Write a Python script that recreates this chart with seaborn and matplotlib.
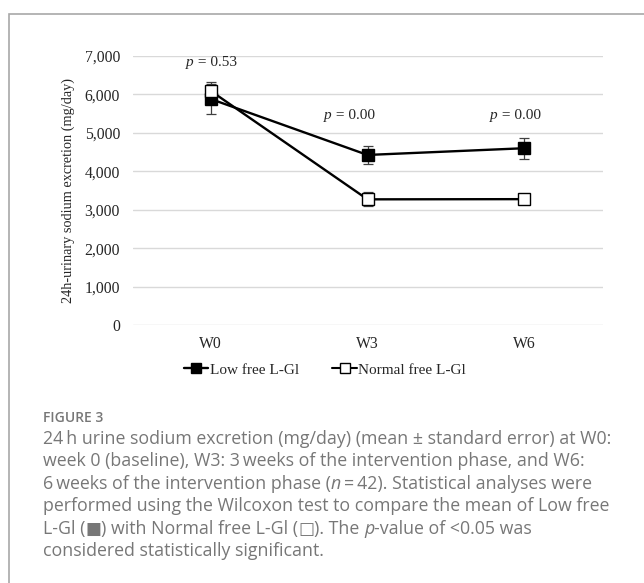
import pandas as pd
import seaborn as sns
import matplotlib.pyplot as plt
from matplotlib import transforms
from matplotlib.patches import Rectangle

# --- data ---
weeks = ["W0", "W3", "W6"]
low_mean = [5880, 4425, 4600]
low_se = [380, 245, 275]
normal_mean = [6090, 3270, 3275]
normal_se = [240, 185, 110]
p_labels = ["0.53", "0.00", "0.00"]
group_names = ["Low free L-Gl", "Normal free L-Gl"]

df = pd.DataFrame({
    "week": weeks * 2,
    "value": low_mean + normal_mean,
    "se": low_se + normal_se,
    "group": [group_names[0]] * 3 + [group_names[1]] * 3,
})

sns.set_theme(style="white")
plt.rcParams["font.family"] = ["Liberation Serif", "DejaVu Serif"]

fig = plt.figure(figsize=(6.44, 5.83), dpi=100)
W, H = 644, 583
ax = fig.add_axes([132.5 / W, 1 - 325 / H, 470 / W, 269 / H])

# error bars first, under the markers
for g, sub in df.groupby("group", sort=False):
    ax.errorbar(range(len(sub)), sub["value"], yerr=sub["se"], fmt="none",
                ecolor="#404040", elinewidth=0.9, capsize=3.5, capthick=0.9, zorder=2)

# one lineplot per group so the marker fill can differ
fills = {group_names[0]: "black", group_names[1]: "white"}
for g in group_names:
    sns.lineplot(data=df[df["group"] == g], x="week", y="value", color="black",
                 marker="s", markersize=9, markerfacecolor=fills[g],
                 markeredgecolor="black", markeredgewidth=1.0,
                 linewidth=1.7, ax=ax, zorder=3, errorbar=None)

ax.set_xlim(-0.5, 2.5)
ax.set_ylim(0, 7000)
ax.set_yticks(range(0, 7001, 1000))
ax.set_yticklabels([f"{v:,}" for v in range(0, 7001, 1000)])
ax.yaxis.grid(True, color="#d9d9d9", linewidth=1.0)
ax.set_axisbelow(True)
for s in ax.spines.values():
    s.set_visible(False)
ax.tick_params(axis="both", length=0, labelsize=11.3, colors="#262626", pad=9)
ax.tick_params(axis="x", pad=8)
ax.set_xlabel("")
ax.set_ylabel("24h-urinary sodium excretion (mg/day)", fontsize=10.3,
              color="#262626", labelpad=7)

# p-value labels
p_pos = [(0.0, 6820), (-0.12, 5440), (-0.06, 5440)]
for i, (dx, y) in enumerate(p_pos):
    x = i + dx
    tr = transforms.offset_copy(ax.transData, fig=fig, x=-17, y=0, units="dots")
    ax.text(x, y, "p", transform=tr, fontsize=11, style="italic",
            ha="right", va="center", color="#262626")
    ax.text(x, y, " = " + p_labels[i], transform=tr, fontsize=11,
            ha="left", va="center", color="#262626")

# legend
handles = [
    plt.Line2D([], [], color="black", lw=1.7, marker="s", markersize=7.5,
               markerfacecolor="black"),
    plt.Line2D([], [], color="black", lw=1.5, marker="s", markersize=7.5,
               markerfacecolor="white", markeredgewidth=1.0),
]
fig.legend(handles, group_names, loc="center", bbox_to_anchor=(325 / W, 1 - 370 / H),
           ncol=2, frameon=False, fontsize=11, handlelength=1.6, handletextpad=0.1,
           columnspacing=2.2)

# caption, drawn in pieces so italics and box signs can use their own fonts
cap_font = ["Open Sans", "DejaVu Sans"]
cap_color = "#777777"
cap_size = 12.8
renderer = fig.canvas.get_renderer()


def text_run(y_px, pieces):
    x = 43.0
    for s, kw in pieces:
        props = dict(fontsize=cap_size, color=cap_color, family=cap_font, va="baseline")
        props.update(kw)
        t = fig.text(x / W, 1 - y_px / H, s, **props)
        x += t.get_window_extent(renderer).width


fig.text(43 / W, 1 - 421.5 / H, "FIGURE 3", fontsize=10, color=cap_color,
         family=cap_font, weight="semibold", va="baseline")
ital = {"style": "italic"}
box = {"family": ["DejaVu Sans"], "fontsize": cap_size * 0.95}
caption = [
    [("24\u2009h urine sodium excretion (mg/day) (mean \u00b1 standard error) at W0:", {})],
    [("week 0 (baseline), W3: 3\u2009weeks of the intervention phase, and W6:", {})],
    [("6\u2009weeks of the intervention phase (", {}), ("n", ital),
     ("\u2009=\u200942). Statistical analyses were", {})],
    [("performed using the Wilcoxon test to compare the mean of Low free", {})],
    [("L-Gl (", {}), ("\u25a0", box), (") with Normal free L-Gl (", {}),
     ("\u25a1", box), ("). The ", {}), ("p", ital), ("-value of <0.05 was", {})],
    [("considered statistically significant.", {})],
]
for k, pieces in enumerate(caption):
    text_run(444 + 22.4 * k, pieces)

# panel border
fig.patches.append(Rectangle((8.5 / W, -0.1), 1.2, 1.1 - 14 / H,
                             transform=fig.transFigure, fill=False,
                             edgecolor="#a8a8a8", linewidth=1.2))

fig.savefig("out.png", dpi=100)
